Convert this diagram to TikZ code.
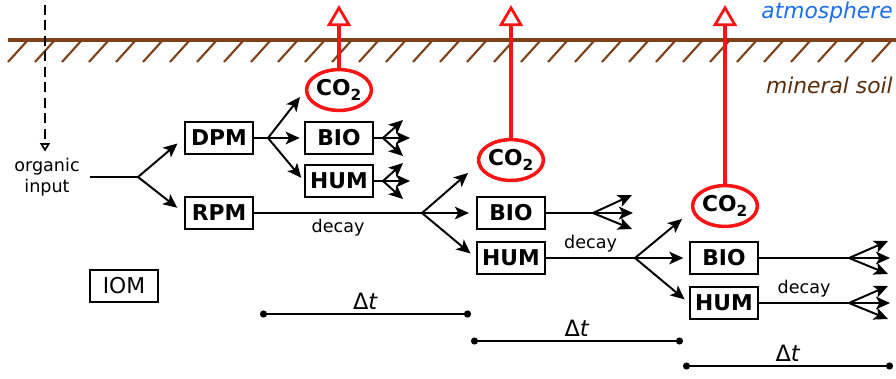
\documentclass[tikz,border=0pt]{standalone}
\usepackage{fontspec}
\setmainfont{DejaVu Sans}
\usepackage{tikz}
\usetikzlibrary{shapes.geometric,arrows.meta,positioning,calc}
\definecolor{soilbrown}{RGB}{125,65,25}
\definecolor{soiltext}{RGB}{90,45,10}
\definecolor{airblue}{RGB}{25,110,245}
\definecolor{co2red}{RGB}{250,20,20}

\begin{document}
\begin{tikzpicture}[x=0.025cm, y=-0.025cm,
    pool/.style={rectangle, draw=black, line width=1.5pt, minimum width=1.7cm, minimum height=0.8cm, inner sep=0pt, font=\fontsize{15.5}{18}\selectfont\bfseries},
    inert/.style={pool, font=\fontsize{15.5}{18}\selectfont},
    gas/.style={ellipse, draw=co2red, line width=2.5pt, minimum width=1.58cm, minimum height=1.02cm, inner sep=0pt, font=\fontsize{15.5}{18}\selectfont\bfseries},
    flow/.style={-{Stealth[length=10pt, width=9pt, inset=2.5pt]}, line width=1.4pt},
    link/.style={line width=1.4pt},
    emit/.style={-{Triangle[open, length=15pt, width=17pt, line width=2pt]}, draw=co2red, line width=3.5pt},
    ground/.style={draw=soilbrown, line width=2.4pt},
    hatch/.style={draw=soilbrown, line width=1.5pt},
    label/.style={font=\fontsize{12.5}{15}\selectfont},
    tick/.style={{Circle[length=5pt]}-{Circle[length=5pt]}, line width=1.1pt},
    dtlabel/.style={above=0pt, inner sep=3pt, font=\fontsize{16}{19}\selectfont},
    zone/.style={font=\fontsize{15.5}{18}\selectfont\itshape, anchor=base east, inner sep=0pt},
  ]
    \useasboundingbox (0,0) rectangle (896,378);

    % Soil surface
    \coordinate (surfL) at (8,40);
    \coordinate (surfR) at (896,40);
    \draw[ground] (surfL) -- (surfR);
    \foreach \x in {8,35,...,872}
      \draw[hatch] (\x,62) -- ++(19,-21);
    \node[zone, text=airblue] (air) at (893,18) {atmosphere};
    \node[zone, text=soiltext] (soil) at (893,93) {mineral soil};

    % Input
    \node[label, align=center] (input) at (47,177) {organic\\input};
    \coordinate (srcTop) at (45,5);
    \draw[line width=1.2pt, dash pattern=on 7pt off 4pt, -{Triangle[open, length=6pt, width=7pt]}, shorten >=1pt] (srcTop) -- (srcTop |- input.north);
    \coordinate (split0) at (138,177);
    \draw[link, shorten <=4pt] (input.east) -- (split0);

    % First step
    \node[pool] (dpm) at (219,138) {DPM};
    \node[pool] (rpm) at (219,213) {RPM};
    \node[inert] (iom) at (124,286) {IOM};
    \draw[flow, shorten >=6pt] (split0) -- (dpm.west);
    \draw[flow, shorten >=6pt] (split0) -- (rpm.west);

    \coordinate (split1) at (268,138);
    \draw[link] (dpm.east) -- (split1);
    \node[gas] (co2a) at (339,90) {CO\textsubscript{2}};
    \node[pool] (bioa) at (339,138) {BIO};
    \node[pool] (huma) at (339,181) {HUM};
    \coordinate (toco2a) at (300,97);
    \draw[flow] (split1) -- (toco2a);
    \draw[flow, shorten >=3pt] (split1) -- (bioa.west);
    \draw[flow, shorten >=3pt] (split1) -- (huma.west);

    \coordinate (fanba) at (383,138);
    \coordinate (fanha) at (383,181);
    \draw[link] (bioa.east) -- (fanba);
    \draw[link] (huma.east) -- (fanha);
    \foreach \dx/\dy in {20/-18,27/0,20/18} {
      \draw[flow] (fanba) -- ++(\dx,\dy);
      \draw[flow] (fanha) -- ++(\dx,\dy);
    }

    % Second step
    \coordinate (split2) at (422,213);
    \draw[link] (rpm.east) -- node[below, label] {decay} (split2);
    \node[gas] (co2b) at (511,160) {CO\textsubscript{2}};
    \node[pool] (biob) at (511,213) {BIO};
    \node[pool] (humb) at (511,258) {HUM};
    \coordinate (toco2b) at (468,173);
    \draw[flow] (split2) -- (toco2b);
    \draw[flow, shorten >=5pt] (split2) -- (biob.west);
    \draw[flow, shorten >=5pt] (split2) -- (humb.west);

    \coordinate (fanbb) at (593,213);
    \draw[link] (biob.east) -- (fanbb);
    \foreach \dx/\dy in {39/-18,40/0,39/16}
      \draw[flow] (fanbb) -- ++(\dx,\dy);

    % Third step
    \coordinate (split3) at (635,258);
    \draw[link] (humb.east) -- node[above, label] {decay} (split3);
    \node[gas] (co2c) at (725,206) {CO\textsubscript{2}};
    \node[pool] (bioc) at (724,258) {BIO};
    \node[pool] (humc) at (724,303) {HUM};
    \coordinate (toco2c) at (682,219);
    \draw[flow] (split3) -- (toco2c);
    \draw[flow, shorten >=4pt] (split3) -- (bioc.west);
    \draw[flow, shorten >=4pt] (split3) -- (humc.west);

    \coordinate (fanbc) at (849,258);
    \coordinate (fanhc) at (849,303);
    \draw[link] (bioc.east) -- (fanbc);
    \draw[link] (humc.east) -- node[above, label] {decay} (fanhc);
    \foreach \dx/\dy in {39/-17,41/0,39/16} {
      \draw[flow] (fanbc) -- ++(\dx,\dy);
      \draw[flow] (fanhc) -- ++(\dx,\dy);
    }

    % CO2 release
    \coordinate (sky) at (0,5);
    \draw[emit] (co2a.north) -- (co2a.north |- sky);
    \draw[emit] (co2b.north) -- (co2b.north |- sky);
    \draw[emit] (co2c.north) -- (co2c.north |- sky);

    % Time steps
    \coordinate (ta) at (260,314);
    \coordinate (tb) at (471,314);
    \coordinate (tc) at (471,341);
    \coordinate (td) at (683,341);
    \coordinate (te) at (683,366);
    \coordinate (tf) at (893,366);
    \draw[tick] (ta) -- node[dtlabel] {Δ\textit{t}} (tb);
    \draw[tick] (tc) -- node[dtlabel] {Δ\textit{t}} (td);
    \draw[tick] (te) -- node[dtlabel] {Δ\textit{t}} (tf);

  \end{tikzpicture}
\end{document}
